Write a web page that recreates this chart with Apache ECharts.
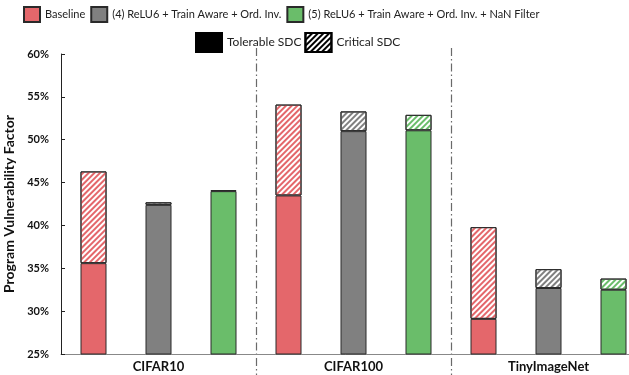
<!DOCTYPE html>
<html>
<head>
<meta charset="utf-8">
<script src="https://cdn.jsdelivr.net/npm/echarts@6/dist/echarts.min.js"></script>
<style>html,body{margin:0;padding:0;background:#fff}#c{width:629px;height:375px}</style>
</head>
<body>
<div id="c"></div>
<script>
// Data
var datasets = ['CIFAR10', 'CIFAR100', 'TinyImageNet'];
var configs = ['Baseline', '(4) ReLU6 + Train Aware + Ord. Inv.', '(5) ReLU6 + Train Aware + Ord. Inv. + NaN Filter'];
var sdcTypes = ['Tolerable SDC', 'Critical SDC'];
// tolerable (solid) part, per dataset
var baselineTolerable = [35.6, 43.5, 29.1];
var reluTolerable = [42.4, 51.0, 32.7];
var nanTolerable = [44.0, 51.1, 32.5];
// critical (hatched) part, per dataset
var baselineCritical = [10.7, 10.6, 10.7];
var reluCritical = [0.3, 2.3, 2.2];
var nanCritical = [0.1, 1.8, 1.3];
var yTicks = [25, 30, 35, 40, 45, 50, 55, 60];

var colors = ['#e4676b', '#808080', '#6abd6a'];
var FONT = 'Lato, sans-serif';

var slots = [];
datasets.forEach(function (d) { configs.forEach(function (c) { slots.push(d + '|' + c); }); });

function spread(arr, ci) {
  var out = [];
  for (var g = 0; g < datasets.length; g++) {
    for (var c = 0; c < configs.length; c++) {
      out.push(c === ci ? arr[g] : null);
    }
  }
  return out;
}
function hatch(color) {
  return { symbol: 'rect', symbolSize: 1, color: color, dashArrayX: [1, 0], dashArrayY: [2, 2], rotation: -Math.PI / 4 };
}

var tolerableArr = [baselineTolerable, reluTolerable, nanTolerable];
var criticalArr = [baselineCritical, reluCritical, nanCritical];

var series = [];
configs.forEach(function (name, ci) {
  series.push({
    name: name, type: 'bar', stack: 'total', barWidth: 26,
    xAxisIndex: 0, yAxisIndex: 0,
    itemStyle: { color: colors[ci], borderColor: '#2a2a2a', borderWidth: 1 },
    data: spread(tolerableArr[ci], ci)
  });
});
configs.forEach(function (name, ci) {
  series.push({
    name: name + ' critical', type: 'bar', stack: 'total', barWidth: 26,
    xAxisIndex: 0, yAxisIndex: 0,
    itemStyle: { color: '#ffffff', borderColor: '#2a2a2a', borderWidth: 1, decal: hatch(colors[ci]) },
    data: spread(criticalArr[ci], ci)
  });
});
series.push({ name: sdcTypes[0], type: 'bar', stack: 'total', barWidth: 26, xAxisIndex: 0, yAxisIndex: 0,
  itemStyle: { color: '#000', borderColor: '#000', borderWidth: 1 }, data: [] });
series.push({ name: sdcTypes[1], type: 'bar', stack: 'total', barWidth: 26, xAxisIndex: 0, yAxisIndex: 0,
  itemStyle: { color: '#fff', borderColor: '#000', borderWidth: 1, decal: hatch('#000') }, data: [] });

var chart = echarts.init(document.getElementById('c'), null, { renderer: 'canvas' });
chart.setOption({
  animation: false,
  textStyle: { fontFamily: FONT },
  legend: [
    { data: configs, top: 1, left: 18, itemWidth: 16, itemHeight: 15, itemGap: 5,
      icon: 'rect', textStyle: { fontSize: 11, color: '#222', fontFamily: FONT }, selectedMode: false },
    { data: sdcTypes, top: 27, left: 190, itemWidth: 26, itemHeight: 19, itemGap: 3,
      icon: 'rect', textStyle: { fontSize: 12, color: '#222', fontFamily: FONT }, selectedMode: false }
  ],
  grid: [
    { left: 61, top: 54, width: 585, bottom: 21, outerBoundsMode: 'none', containLabel: false },
    { left: 61, top: 48, width: 585, bottom: 0, outerBoundsMode: 'none', containLabel: false }
  ],
  xAxis: [
    { type: 'category', gridIndex: 0, position: 'bottom', data: slots,
      axisLine: { lineStyle: { color: '#888', width: 1 } }, axisTick: { show: false }, axisLabel: { show: false } },
    { type: 'category', gridIndex: 0, position: 'bottom', data: datasets,
      axisLine: { show: false }, axisTick: { show: false },
      axisLabel: { fontSize: 13, fontWeight: 'bold', color: '#111', margin: 6, fontFamily: FONT } },
    { type: 'category', gridIndex: 1, position: 'bottom', data: datasets,
      axisLine: { show: false }, axisTick: { show: false }, axisLabel: { show: false },
      splitLine: { show: true, showMinLine: false, lineStyle: { color: '#6a6a6a', width: 1.2, type: [8, 3, 1.5, 3] } } }
  ],
  yAxis: [
    { type: 'value', gridIndex: 0, min: yTicks[0], max: yTicks[yTicks.length - 1], interval: 5,
      name: 'Program Vulnerability Factor', nameLocation: 'middle', nameGap: 44,
      nameTextStyle: { fontSize: 14, fontWeight: 'bold', color: '#111', fontFamily: FONT },
      axisLine: { show: true, lineStyle: { color: '#222', width: 1 } },
      axisTick: { show: true, inside: true, length: 4, lineStyle: { color: '#222' } },
      axisLabel: { formatter: '{value}%', fontSize: 11, fontWeight: 'bold', color: '#111', margin: 12, fontFamily: FONT },
      splitLine: { show: false } },
    { type: 'value', gridIndex: 1, show: false, min: 0, max: 1 }
  ],
  series: series
});
</script>
</body>
</html>
